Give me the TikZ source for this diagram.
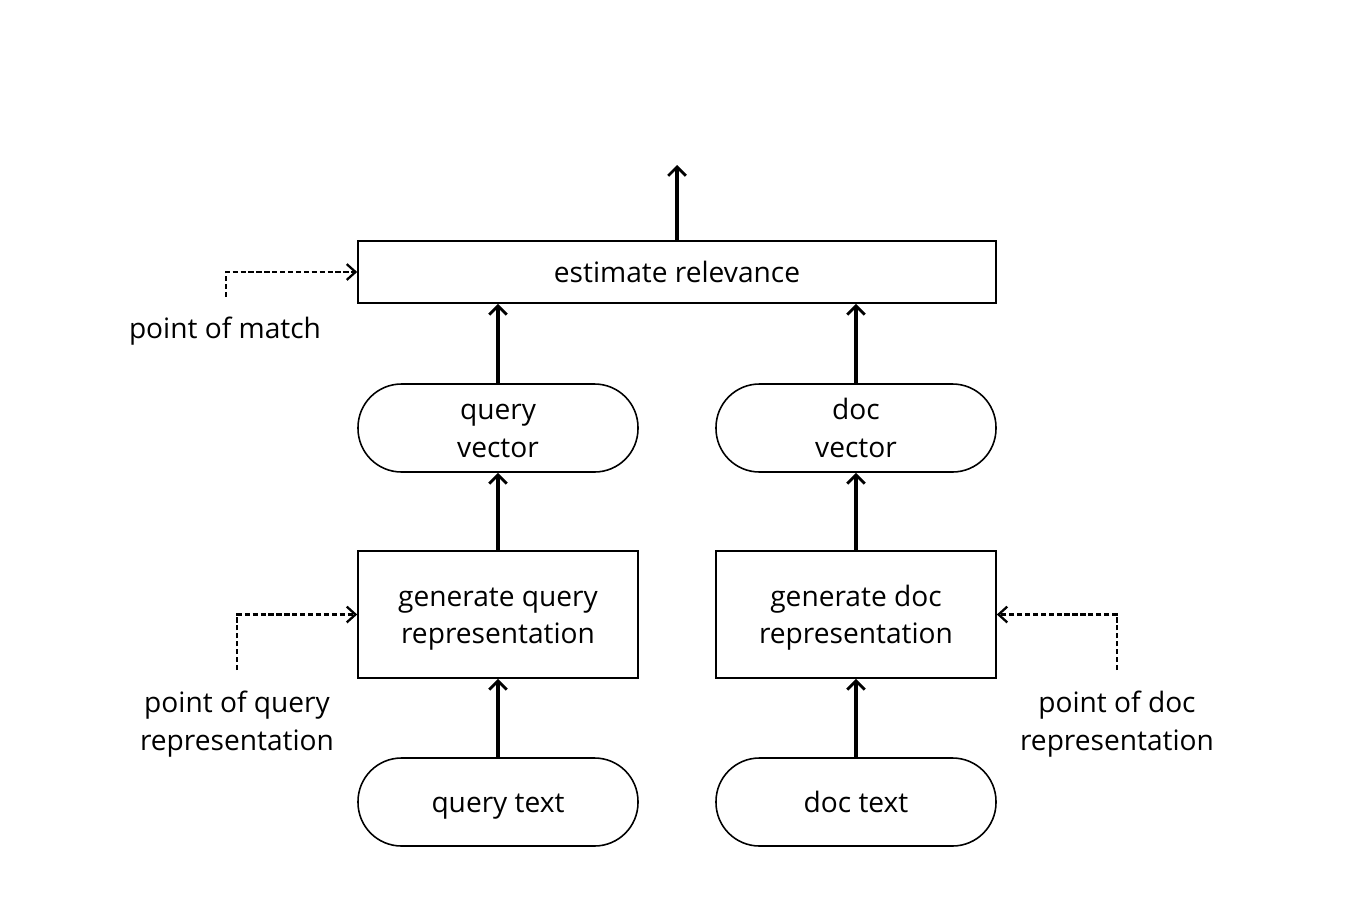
\documentclass[tikz,border=0pt]{standalone}
\usepackage{fontspec}
\setmainfont{Open Sans}
\usetikzlibrary{positioning,arrows.meta}

% line strut, a bit shallower below the baseline than \strut
\newcommand{\lstrut}{\rule[-0.22\baselineskip]{0pt}{\baselineskip}}

\begin{document}
\begin{tikzpicture}[
  txt/.style={align=center, font=\fontsize{16}{21.5}\selectfont},
  box/.style={txt, draw, line width=0.9pt, inner sep=0pt},
  pill/.style={box, rounded corners=0.87cm, minimum width=5.6cm, minimum height=1.76cm},
  flow/.style={-{Straight Barb[length=5pt,width=10pt,line width=1.6pt]}, line width=2pt},
  hint/.style={-{Straight Barb[length=5pt,width=9pt,line width=1.3pt]}, line width=1.3pt, dash pattern=on 3pt off 1.5pt},
  note/.style={txt}
]

% Page frame
\useasboundingbox (0,0) rectangle (27.08,-18.24);

% Top block: estimate relevance
\node[box, minimum width=12.76cm, minimum height=1.24cm] (rel) at (13.54,-5.44) {\lstrut estimate relevance\lstrut};
\coordinate (out) at (13.54,-3.3);
\draw[flow] (rel.north) -- (out);

% Vectors
\node[pill] (qvec) at (9.96,-8.56) {\lstrut query\\vector\lstrut};
\node[pill] (dvec) at (17.12,-8.56) {\lstrut doc\\vector\lstrut};

\draw[flow] (qvec.north) -- (qvec.north |- rel.south);
\draw[flow] (dvec.north) -- (dvec.north |- rel.south);

% Representation blocks
\node[box, minimum width=5.6cm, minimum height=2.54cm] (genq) at (9.96,-12.29) {\lstrut generate query\\representation\lstrut};
\node[box, minimum width=5.6cm, minimum height=2.54cm] (gend) at (17.12,-12.29) {\lstrut generate doc\\representation\lstrut};

\draw[flow] (genq.north) -- (qvec.south);
\draw[flow] (gend.north) -- (dvec.south);

% Input texts
\node[pill] (qtxt) at (9.96,-16.04) {\lstrut query text\lstrut};
\node[pill] (dtxt) at (17.12,-16.04) {\lstrut doc text\lstrut};

\draw[flow] (qtxt.north) -- (genq.south);
\draw[flow] (dtxt.north) -- (gend.south);

% Point of match
\node[note] (pmatch) at (4.5,-6.55) {\lstrut point of match\lstrut};
\coordinate (pmatchs) at (4.52,-5.94);
\draw[hint] (pmatchs) |- (rel.west);

% Point of query representation
\node[note] (pquery) at (4.74,-14.42) {\lstrut point of query\\representation\lstrut};
\coordinate (pquerys) at (4.74,-13.4);
\draw[hint] (pquerys) |- (genq.west);

% Point of doc representation
\node[note] (pdoc) at (22.34,-14.42) {\lstrut point of doc\\representation\lstrut};
\coordinate (pdocs) at (22.34,-13.4);
\draw[hint] (pdocs) |- (gend.east);

\end{tikzpicture}
\end{document}
